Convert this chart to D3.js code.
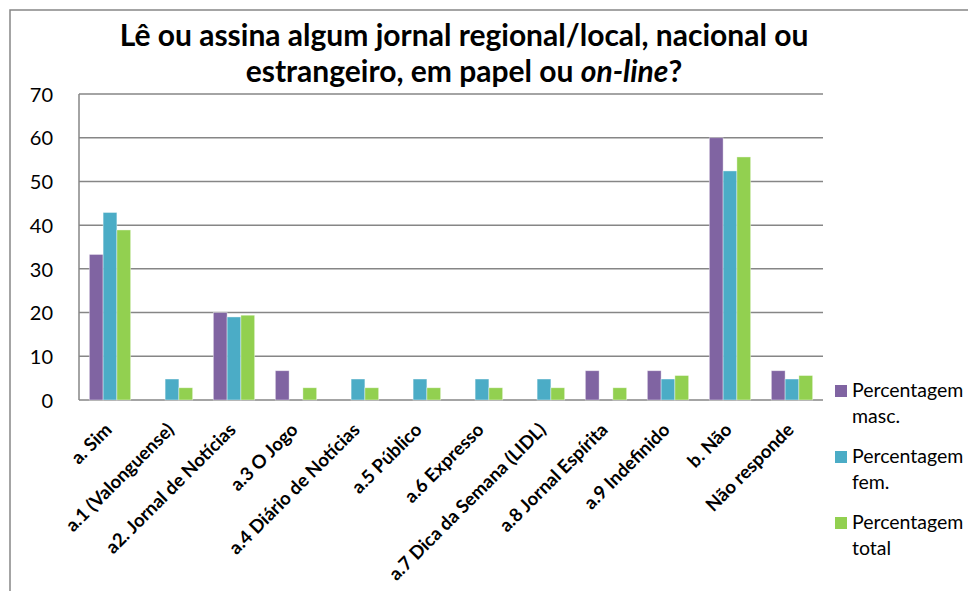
<!DOCTYPE html>
<html><head><meta charset="utf-8">
<script src="https://cdn.jsdelivr.net/npm/d3@7"></script>
<style>body{margin:0;background:#fff;} svg{display:block;}</style>
</head><body>
<svg id="c" width="968" height="591"></svg>
<script>
const categories = ["a. Sim","a.1 (Valonguense)","a2. Jornal de Notícias","a.3 O Jogo","a.4 Diário de Notícias","a.5 Público","a.6 Expresso","a.7 Dica da Semana (LIDL)","a.8 Jornal Espírita","a.9 Indefinido","b. Não","Não responde"];
const seriesNames = ["Percentagem masc.","Percentagem fem.","Percentagem total"];
const masc  = [33.3, 0, 20.0, 6.7, 0, 0, 0, 0, 6.7, 6.7, 60.0, 6.7];
const fem   = [42.9, 4.8, 19.0, 0, 4.8, 4.8, 4.8, 4.8, 0, 4.8, 52.4, 4.8];
const total = [38.9, 2.8, 19.4, 2.8, 2.8, 2.8, 2.8, 2.8, 2.8, 5.6, 55.6, 5.6];
const yTicks = [0,10,20,30,40,50,60,70];
const colors = ["#8064A2","#4BACC6","#92D050"];
const series = [masc, fem, total];

const svg = d3.select("#c");
const font = "Lato, 'Open Sans', sans-serif";
const L = 79, R = 823, T = 94, B = 400;

// outer frame
svg.append("rect").attr("x",10).attr("y",10).attr("width",1000).attr("height",1000)
  .attr("fill","none").attr("stroke","#868686").attr("stroke-width",1.5);

// title
const title = svg.append("text").attr("x",464).attr("text-anchor","middle")
  .attr("font-family",font).attr("font-weight","bold").attr("font-size",30).attr("fill","#000");
title.append("tspan").attr("x",464).attr("y",46).text("Lê ou assina algum jornal regional/local, nacional ou");
const t2 = title.append("tspan").attr("x",464).attr("y",82);
t2.append("tspan").text("estrangeiro, em papel ou ");
t2.append("tspan").attr("font-style","italic").text("on-line");
t2.append("tspan").text("?");

const y = d3.scaleLinear().domain([0,70]).range([B,T]);
const x0 = d3.scaleBand().domain(categories).range([L,R]);
const bw = x0.bandwidth()/4.5;
const x1 = d3.scaleBand().domain(d3.range(3)).range([0, bw*3]);

// gridlines
svg.append("g").selectAll("line").data(yTicks).join("line")
  .attr("x1",L).attr("x2",R).attr("y1",d=>y(d)).attr("y2",d=>y(d))
  .attr("stroke","#868686").attr("stroke-width",1.5);
svg.append("line").attr("x1",L).attr("x2",L).attr("y1",T).attr("y2",B)
  .attr("stroke","#868686").attr("stroke-width",1.5);

// y axis labels
const yAxis = d3.axisLeft(y).tickValues(yTicks).tickSize(0).tickPadding(0);
const gy = svg.append("g").attr("transform",`translate(${L-26},0)`).call(yAxis);
gy.select(".domain").remove();
gy.selectAll("text").attr("font-family",font).attr("font-size",20).attr("fill","#000").attr("dy","0.36em");

// bars
const g = svg.append("g");
categories.forEach((c,i)=>{
  const gx = x0(c) + (x0.bandwidth()-bw*3)/2;
  series.forEach((s,j)=>{
    if (s[i] <= 0) return;
    g.append("rect").attr("x",gx + x1(j)).attr("y",y(s[i]))
      .attr("width",x1.bandwidth()).attr("height",B - y(s[i]))
      .attr("fill",colors[j]).attr("stroke","rgba(255,255,255,0.5)").attr("stroke-width",0.8);
  });
});

// x labels
const xAxis = d3.axisBottom(x0).tickSize(0).tickPadding(0);
const gx = svg.append("g").attr("transform",`translate(0,${B})`).call(xAxis);
gx.select(".domain").remove();
gx.selectAll("text").attr("font-family",font).attr("font-size",18.5).attr("font-weight","bold").attr("fill","#000")
  .attr("text-anchor","end").attr("dy",null).attr("y",0)
  .attr("transform","translate(3,31) rotate(-45)");

// legend
const lg = svg.append("g");
seriesNames.forEach((n,j)=>{
  const yy = 385 + j*66;
  lg.append("rect").attr("x",835).attr("y",yy).attr("width",12).attr("height",12).attr("fill",colors[j]);
  const parts = n.split(" ");
  const t = lg.append("text").attr("font-family",font).attr("font-size",19.5).attr("fill","#000");
  t.append("tspan").attr("x",852).attr("y",yy+12).text(parts[0]);
  t.append("tspan").attr("x",852).attr("y",yy+38).text(parts[1]);
});
</script>
</body></html>
